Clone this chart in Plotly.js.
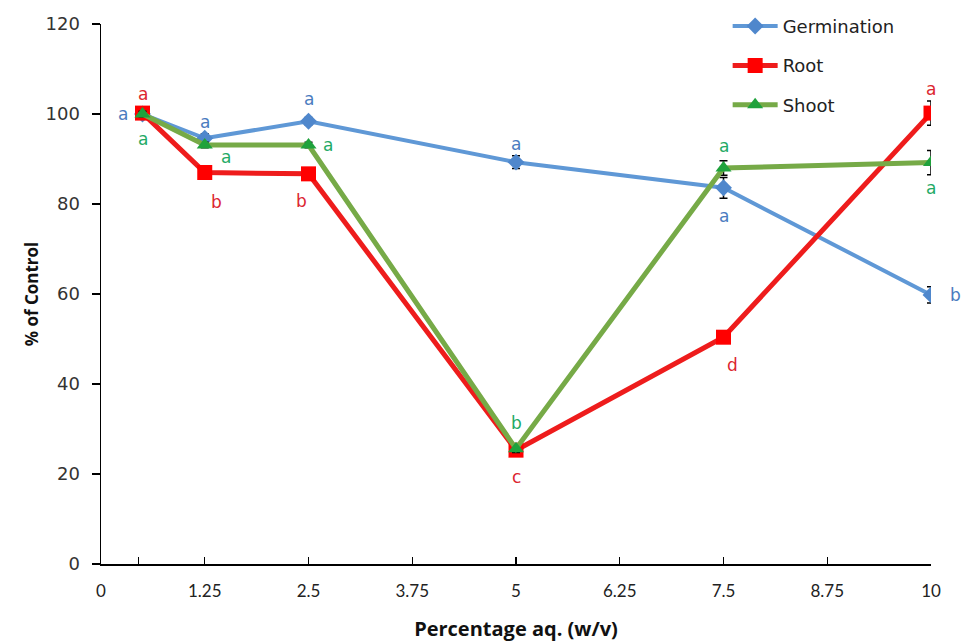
<!DOCTYPE html>
<html>
<head>
<meta charset="utf-8">
<script src="https://cdn.plot.ly/plotly-3.0.1.min.js"></script>
<style>html,body{margin:0;padding:0;background:#fff;}#chart{width:974px;height:643px;}</style>
</head>
<body>
<div id="chart"></div>
<script>
// ---- data ----
var concentration = [0.5, 1.25, 2.5, 5, 7.5, 10];
var germination = [100, 94.6, 98.4, 89.3, 83.6, 59.8];
var germinationErr = [0.8, 1.0, 0.8, 1.4, 2.3, 1.8];
var root = [100.2, 87.0, 86.7, 25.3, 50.4, 100.2];
var rootErr = [0.8, 0.8, 0.8, 1.0, 0.8, 2.7];
var shoot = [100, 93.1, 93.1, 25.6, 88.0, 89.2];
var shootErr = [0.6, 0.6, 0.6, 0.8, 1.6, 2.7];
var germLetters = ['a', 'a', 'a', 'a', 'a', 'b'];
var rootLetters = ['a', 'b', 'b', 'c', 'd', 'a'];
var shootLetters = ['a', 'a', 'a', 'b', 'a', 'a'];
var xTickVals = [0, 0.45, 1.25, 2.5, 3.75, 5, 6.25, 7.5, 8.75, 10];
var xTickText = ['0', '', '1.25', '2.5', '3.75', '5', '6.25', '7.5', '8.75', '10'];
var yTickVals = [0, 20, 40, 60, 80, 100, 120];

// ---- styles ----
var blueLine = '#5f98d6', blueMark = '#4f87cc', blueText = '#4a7cc0';
var redLine = '#ee1c1c', redMark = '#ff0000', redText = '#dc2630';
var greenLine = '#76aa47', greenMark = '#1fa23c', greenText = '#1faa66';

// letter offsets (pixels) per point
var germShift = [[-20, 0], [0, 16], [0, 22], [0, 18], [0, -28], [24, 0]];
var rootShift = [[0, 19], [12, -29], [-7, -27], [0, -27], [9, -28], [0, 24]];
var shootShift = [[0, -25], [21, -12], [19, 0], [0, 26], [0, 22], [0, -25]];

function errSpec(arr) {
  return {type: 'data', array: arr, visible: true, color: '#000', thickness: 1.5, width: 4};
}

var traces = [
  {x: concentration, y: germination, name: 'Germination', mode: 'lines+markers', legendgroup: 'g',
   line: {color: blueLine, width: 4}, marker: {symbol: 'diamond', size: 13, color: blueMark},
   error_y: errSpec(germinationErr)},
  {x: concentration, y: root, name: 'Root', mode: 'lines+markers', legendgroup: 'r',
   line: {color: redLine, width: 5}, marker: {symbol: 'square', size: 15, color: redMark},
   error_y: errSpec(rootErr)},
  {x: concentration, y: shoot, name: 'Shoot', mode: 'lines+markers', legendgroup: 's',
   line: {color: greenLine, width: 5}, marker: {symbol: 'triangle-up', size: 14, color: greenMark},
   error_y: errSpec(shootErr)}
];

var annotations = [];
function addLetters(ys, letters, shifts, color) {
  for (var i = 0; i < ys.length; i++) {
    annotations.push({x: concentration[i], y: ys[i], text: letters[i], showarrow: false,
      xshift: shifts[i][0], yshift: shifts[i][1],
      font: {family: 'DejaVu Sans, Verdana, sans-serif', size: 17, color: color}});
  }
}
addLetters(germination, germLetters, germShift, blueText);
addLetters(root, rootLetters, rootShift, redText);
addLetters(shoot, shootLetters, shootShift, greenText);

var layout = {
  width: 974, height: 643,
  margin: {l: 101, r: 43, t: 24, b: 79, autoexpand: false},
  paper_bgcolor: '#fff', plot_bgcolor: '#fff',
  showlegend: true,
  legend: {x: 0.755, y: 1.03, xanchor: 'left', yanchor: 'top', bgcolor: 'rgba(0,0,0,0)',
    font: {family: 'DejaVu Sans, Verdana, sans-serif', size: 18, color: '#222'},
    tracegroupgap: 13, itemwidth: 45},
  xaxis: {range: [0, 10], tickmode: 'array', tickvals: xTickVals, ticktext: xTickText,
    showgrid: false, zeroline: false, showline: true, linecolor: '#000', linewidth: 1.5,
    ticks: 'inside', ticklen: 7, tickcolor: '#000', tickwidth: 1.2, ticklabelstandoff: 11,
    tickfont: {family: 'Lato, sans-serif', size: 17, color: '#222'},
    title: {text: 'Percentage aq. (w/v)', standoff: 22,
      font: {family: 'Open Sans, sans-serif', size: 20, color: '#111', weight: 'bold'}}},
  yaxis: {range: [0, 120], tickmode: 'array', tickvals: yTickVals,
    showgrid: false, zeroline: false, showline: true, linecolor: '#000', linewidth: 1.5,
    ticks: 'outside', ticklen: 8, tickcolor: '#000', tickwidth: 1.2, ticklabelstandoff: 8,
    tickfont: {family: 'DejaVu Sans, Verdana, sans-serif', size: 18, color: '#333'},
    title: {text: '% of Control', standoff: 2,
      font: {family: 'Open Sans, sans-serif', size: 17, color: '#111', weight: 'bold'}}},
  annotations: annotations
};

Plotly.newPlot('chart', traces, layout, {displayModeBar: false, staticPlot: true});
</script>
</body>
</html>
